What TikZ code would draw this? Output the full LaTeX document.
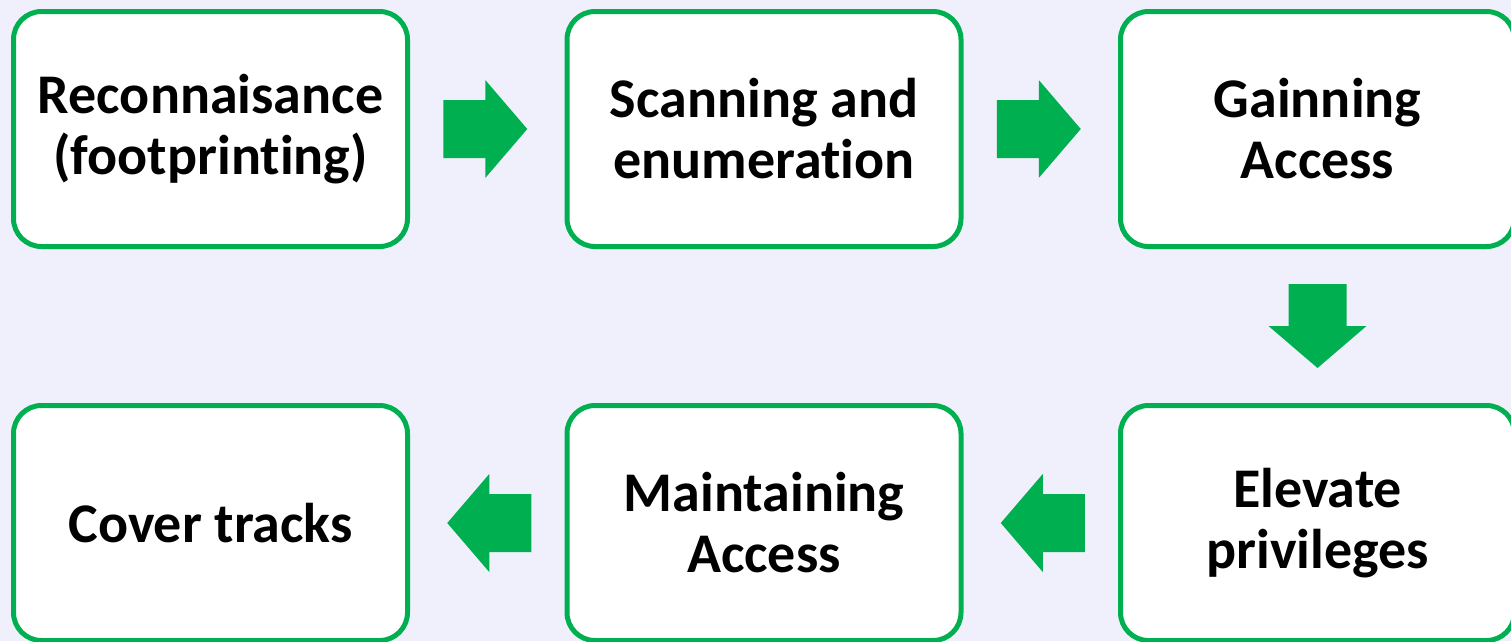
\documentclass[tikz,border=0pt]{standalone}
\usepackage{fontspec}
\setmainfont{Carlito}[Ligatures={NoCommon}]
\usetikzlibrary{calc}
\definecolor{bgpaper}{HTML}{F0F0FC}
\definecolor{stepgreen}{HTML}{00B050}
\tikzset{
  stagebox/.style={draw=stepgreen, line width=5pt, fill=white, rounded corners=28pt,
    minimum width=394pt, minimum height=235pt, align=center,
    font=\fontsize{56}{61}\selectfont\bfseries, text=black, inner sep=0pt},
  blockarrow/.pic={
    \fill[stepgreen] (-42,-29) -- (0,-29) -- (0,-49) -- (42,0) -- (0,49) -- (0,29) -- (-42,29) -- cycle;
  }
}
\begin{document}
\begin{tikzpicture}[x=1pt,y=1pt]
  \fill[bgpaper] (0,0) rectangle (1511,-641);
  \useasboundingbox (0,0) rectangle (1511,-641);
  % top row, left to right
  \node[stagebox] (recon) at (210.5,-129) {Reconnaisance\\(footprinting)};
  \node[stagebox] (scan)  at (764,-129)   {Scanning and\\enumeration};
  \node[stagebox] (gain)  at (1317.5,-129) {Gainning\\Access};
  % bottom row, right to left
  \node[stagebox] (elev)  at (1317.5,-523) {Elevate\\privileges};
  \node[stagebox] (maint) at (764,-523)   {Maintaining\\Access};
  \node[stagebox] (cover) at (210.5,-523) {Cover tracks};
  % block arrows between the stages
  \coordinate (a1) at ($(recon.east)!0.5!(scan.west)+(-2,0)$);
  \coordinate (a2) at ($(scan.east)!0.5!(gain.west)+(-2,0)$);
  \coordinate (a3) at ($(gain.south)!0.5!(elev.north)$);
  \coordinate (a4) at ($(elev.west)!0.5!(maint.east)+(2,0)$);
  \coordinate (a5) at ($(maint.west)!0.5!(cover.east)+(2,0)$);
  \pic at (a1) {blockarrow};
  \pic at (a2) {blockarrow};
  \pic[rotate=-90] at (a3) {blockarrow};
  \pic[rotate=180] at (a4) {blockarrow};
  \pic[rotate=180] at (a5) {blockarrow};
\end{tikzpicture}
\end{document}
